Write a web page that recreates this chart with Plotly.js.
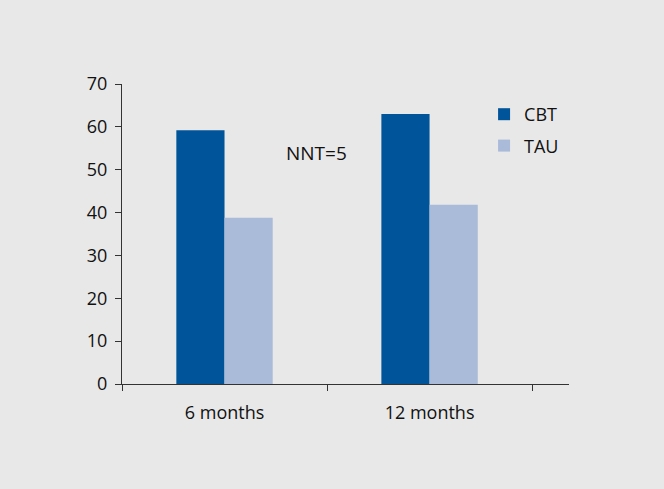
<!DOCTYPE html>
<html>
<head>
<meta charset="utf-8">
<script src="https://cdn.plot.ly/plotly-3.0.1.min.js"></script>
<style>
  html, body { margin: 0; padding: 0; background: #e8e8e8; }
  #chart { width: 664px; height: 489px; }
</style>
</head>
<body>
<div id="chart"></div>
<script>
// data
const categories = ['6 months', '12 months'];
const cbtValues = [59.2, 63.0];
const tauValues = [38.8, 41.8];
const yTicks = [0, 10, 20, 30, 40, 50, 60, 70];

const fontFamily = '"Open Sans", "Noto Sans", sans-serif';
const axisColor = '#333333';

const data = [
    {
        x: categories,
        y: cbtValues,
        type: 'bar',
        name: 'CBT',
        legendgroup: 'cbt',
        marker: { color: '#00549a' },
        hoverinfo: 'x+y+name'
    },
    {
        x: categories,
        y: tauValues,
        type: 'bar',
        name: 'TAU',
        legendgroup: 'tau',
        marker: { color: '#a9bbd9' },
        hoverinfo: 'x+y+name'
    }
];

const layout = {
    width: 664,
    height: 489,
    paper_bgcolor: '#e8e8e8',
    plot_bgcolor: '#e8e8e8',
    font: { family: fontFamily, size: 18, color: '#111111' },
    margin: { l: 122, r: 95, t: 84, b: 105 },
    barmode: 'group',
    bargap: 0.53,
    bargroupgap: 0,
    xaxis: {
        type: 'category',
        range: [-0.5, 1.68],
        tickson: 'boundaries',
        ticks: 'outside',
        ticklen: 6,
        tickcolor: axisColor,
        showline: true,
        linecolor: axisColor,
        linewidth: 1,
        showgrid: false,
        zeroline: false,
        ticklabelstandoff: 12,
        tickfont: { size: 18 }
    },
    yaxis: {
        range: [0, 70],
        tickvals: yTicks,
        ticks: 'outside',
        ticklen: 6,
        tickcolor: axisColor,
        showline: true,
        linecolor: axisColor,
        linewidth: 1,
        showgrid: false,
        zeroline: false,
        ticklabelstandoff: 4,
        tickfont: { size: 18 }
    },
    showlegend: true,
    legend: {
        x: 0.81,
        xanchor: 'left',
        y: 0.96,
        yanchor: 'top',
        bgcolor: 'rgba(0,0,0,0)',
        font: { size: 18 },
        itemwidth: 30,
        tracegroupgap: 5
    },
    annotations: [
        {
            text: 'NNT=5',
            xref: 'paper',
            yref: 'paper',
            x: (316 - 122) / 447,
            y: (384 - 153) / 300,
            xanchor: 'center',
            yanchor: 'middle',
            showarrow: false,
            font: { size: 19, color: '#111111' }
        }
    ]
};

const config = { displayModeBar: false, responsive: false };

Plotly.newPlot('chart', data, layout, config);
</script>
</body>
</html>
